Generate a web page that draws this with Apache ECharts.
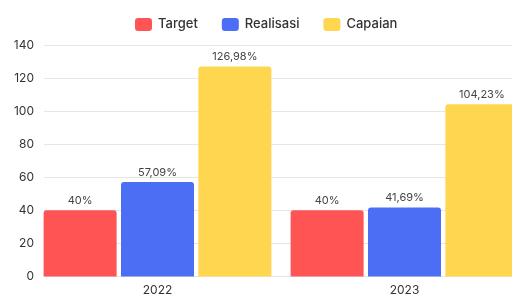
<!DOCTYPE html>
<html>
<head>
<meta charset="utf-8">
<script src="https://cdn.jsdelivr.net/npm/echarts@6/dist/echarts.min.js"></script>
<style>
  html, body { margin: 0; padding: 0; background: #fff; }
  #main { width: 512px; height: 298px; }
</style>
</head>
<body>
<div id="main"></div>
<script>
var categories = ['2022', '2023'];
var target = [40, 40];
var realisasi = [57.09, 41.69];
var capaian = [126.98, 104.23];
var yTicks = [0, 20, 40, 60, 80, 100, 120, 140];

var myChart = echarts.init(document.getElementById('main'));

function pct(p) {
    return String(p.value).replace('.', ',') + '%';
}

var labelStyle = {
    show: true,
    position: 'top',
    distance: 4,
    formatter: pct,
    color: '#444',
    fontSize: 11,
    fontFamily: 'Inter'
};

function barSeries(name, data, color) {
    return {
        name: name,
        type: 'bar',
        xAxisIndex: 1,
        yAxisIndex: 1,
        data: data,
        barWidth: 73,
        barGap: '6%',
        itemStyle: { color: color, borderRadius: [3, 3, 0, 0] },
        label: labelStyle
    };
}

option = {
    animation: false,
    textStyle: { fontFamily: 'Inter' },
    legend: {
        data: ['Target', 'Realisasi', 'Capaian'],
        left: 130,
        top: 13,
        itemWidth: 17,
        itemHeight: 13,
        itemGap: 24,
        icon: 'roundRect',
        textStyle: { fontSize: 13, color: '#333', fontWeight: 500, padding: [0, 0, 0, 1] }
    },
    grid: [
        { left: 44, right: 0, top: 45, bottom: 21.5, outerBoundsMode: 'none' },
        // bar grid runs past the right edge, so the last bar is cut off
        { left: 34, right: -16, top: 45, bottom: 21.5, outerBoundsMode: 'none' }
    ],
    xAxis: [
        { gridIndex: 0, type: 'category', data: categories, show: false },
        {
            gridIndex: 1,
            type: 'category',
            data: categories,
            axisLine: { show: false },
            axisTick: { show: false },
            axisLabel: { color: '#333', fontSize: 12, margin: 8 }
        }
    ],
    yAxis: [
        {
            gridIndex: 0,
            type: 'value',
            min: yTicks[0],
            max: yTicks[yTicks.length - 1],
            interval: 20,
            axisLine: { show: false },
            axisTick: { show: false },
            axisLabel: { color: '#333', fontSize: 12, margin: 10 },
            splitLine: { lineStyle: { color: '#e6e6e6', width: 1 } }
        },
        {
            gridIndex: 1,
            type: 'value',
            min: yTicks[0],
            max: yTicks[yTicks.length - 1],
            interval: 20,
            show: false,
            splitLine: { show: false }
        }
    ],
    series: [
        barSeries('Target', target, '#ff5454'),
        barSeries('Realisasi', realisasi, '#4c6ef5'),
        barSeries('Capaian', capaian, '#ffd64f')
    ]
};
myChart.setOption(option);
window.onresize = myChart.resize;
</script>
</body>
</html>
